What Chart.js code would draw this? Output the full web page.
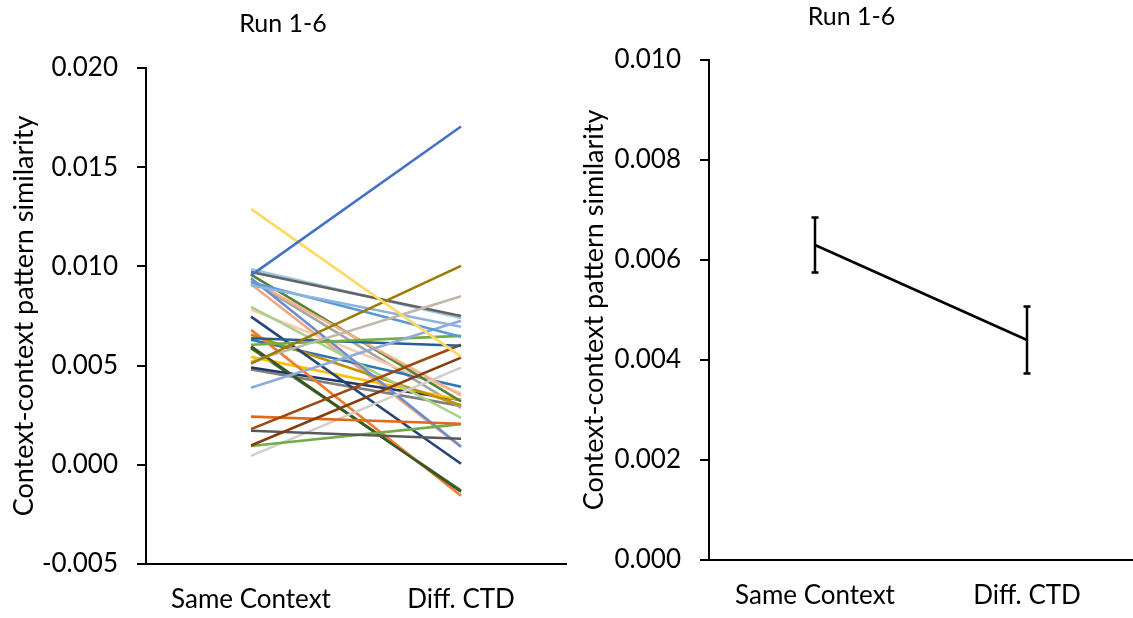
<!DOCTYPE html>
<html>
<head>
<meta charset="utf-8">
<script src="https://cdn.jsdelivr.net/npm/chart.js@4/dist/chart.umd.min.js"></script>
<style>
  body { margin: 0; background: #fff; }
  #left-wrap { position: absolute; left: 0; top: 0; width: 572px; height: 618px; }
  #right-wrap { position: absolute; left: 570px; top: 0; width: 563px; height: 618px; }
</style>
</head>
<body>
<div id="left-wrap"><canvas id="subject-chart" width="572" height="618"></canvas></div>
<div id="right-wrap"><canvas id="mean-chart" width="563" height="618"></canvas></div>
<script>
// categories shared by both panels
let categories = ['Same Context', 'Diff. CTD'];

// per-subject similarity values (left panel)
let sameContext = [
  0.00955, 0.0129, 0.0051, 0.0052, 0.00972, 0.00985, 0.00905, 0.0092, 0.00388, 0.00605, 0.00638,
  0.0018, 0.00097, 0.00243, 0.00172, 0.00095, 0.00045, 0.00597, 0.0068, 0.00747, 0.0094, 0.0093,
  0.00958, 0.00796, 0.00783, 0.00655, 0.00544, 0.0063, 0.0049, 0.0093, 0.0048, 0.0091, 0.00588,
];
let diffCTD = [
  0.01705, 0.00545, 0.01003, 0.0085, 0.0075, 0.0074, 0.00696, 0.00645, 0.00726, 0.0065, 0.006,
  0.00605, 0.0054, 0.00207, 0.00131, 0.00205, 0.0049, -0.00136, -0.00156, 0.00005, 0.00092, 0.0035,
  0.0032, 0.00237, 0.0036, 0.003, 0.00327, 0.00393, 0.00327, 0.00287, 0.00297, 0.0009, -0.0013,
];
let subjectColors = [
  '#4472C4', '#FFD966', '#9C7A00', '#BFB8A6', '#636363', '#9DC3E6', '#8CB4E0', '#5B9BD5', '#8FAADC', '#70AD47', '#255E91',
  '#9E480E', '#843C0C', '#E06A1B', '#595959', '#70AD47', '#D0CECE', '#385723', '#ED7D31', '#264478', '#698ED0', '#F4B183',
  '#548235', '#A9D18E', '#F8CBAD', '#BF9000', '#FFC000', '#2E75B6', '#203864', '#A5A5A5', '#7F7F7F', '#F4A582', '#43682B',
];

// group mean and standard error (right panel)
let meanValues = [0.0063, 0.0044];
let errValues = [0.00055, 0.00067];

let fontFamily = 'Lato, "Open Sans", sans-serif';

function yAxis(min, max, step, width) {
  return {
    min: min,
    max: max,
    afterFit: (scale) => { scale.width = width; },
    border: { color: '#000', width: 2 },
    grid: { drawOnChartArea: false, color: '#000', lineWidth: 2, tickLength: 9 },
    ticks: {
      stepSize: step,
      padding: 19,
      color: '#000',
      font: { family: fontFamily, size: 26 },
      callback: (value) => value.toFixed(3),
    },
    title: {
      display: true,
      text: 'Context-context pattern similarity',
      color: '#000',
      font: { family: fontFamily, size: 27 },
      padding: { top: 8, bottom: 0 },
    },
  };
}

function xAxis(height) {
  return {
    offset: true,
    afterFit: (scale) => { scale.height = height; },
    border: { color: '#000', width: 2 },
    grid: { display: true, drawOnChartArea: false, drawTicks: false, offset: true },
    ticks: {
      padding: 20,
      color: '#000',
      font: { family: fontFamily, size: 26 },
      maxRotation: 0,
    },
  };
}

// left: one line per subject
let subjectSets = sameContext.map((v, i) => ({
  data: [v, diffCTD[i]],
  borderColor: subjectColors[i],
  borderWidth: 2.6,
  pointRadius: 0,
  fill: false,
}));

new Chart(document.querySelector('#subject-chart').getContext('2d'), {
  type: 'line',
  data: { labels: categories, datasets: subjectSets },
  options: {
    responsive: false,
    animation: false,
    layout: { padding: { left: 0, right: 6, top: 0, bottom: 0 } },
    plugins: {
      legend: { display: false },
      tooltip: { enabled: false },
      title: {
        display: true,
        text: 'Run 1-6',
        color: '#000',
        font: { family: fontFamily, size: 25, weight: 'normal' },
        padding: { top: 9, bottom: 29 },
      },
    },
    scales: {
      x: xAxis(54),
      y: yAxis(-0.005, 0.02, 0.005, 146),
    },
  },
});

// right: mean with error bars
let errorBars = {
  id: 'errorBars',
  afterDatasetsDraw(chart) {
    let { ctx, scales } = chart;
    ctx.save();
    ctx.strokeStyle = '#000';
    ctx.lineWidth = 2.5;
    meanValues.forEach((m, i) => {
      let px = scales.x.getPixelForValue(i);
      let top = scales.y.getPixelForValue(m + errValues[i]);
      let bot = scales.y.getPixelForValue(m - errValues[i]);
      ctx.beginPath();
      ctx.moveTo(px, top); ctx.lineTo(px, bot);
      ctx.moveTo(px - 3.5, top); ctx.lineTo(px + 3.5, top);
      ctx.moveTo(px - 3.5, bot); ctx.lineTo(px + 3.5, bot);
      ctx.stroke();
    });
    ctx.restore();
  },
};

new Chart(document.querySelector('#mean-chart').getContext('2d'), {
  type: 'line',
  data: {
    labels: categories,
    datasets: [{
      data: meanValues,
      borderColor: '#000',
      borderWidth: 2.5,
      pointRadius: 0,
      fill: false,
    }],
  },
  options: {
    responsive: false,
    animation: false,
    layout: { padding: { left: 0, right: 0, top: 0, bottom: 0 } },
    plugins: {
      legend: { display: false },
      tooltip: { enabled: false },
      title: {
        display: true,
        text: 'Run 1-6',
        color: '#000',
        font: { family: fontFamily, size: 25, weight: 'normal' },
        padding: { top: 2, bottom: 28 },
      },
    },
    scales: {
      x: xAxis(58),
      y: yAxis(0, 0.01, 0.002, 139),
    },
  },
  plugins: [errorBars],
});
</script>
</body>
</html>
